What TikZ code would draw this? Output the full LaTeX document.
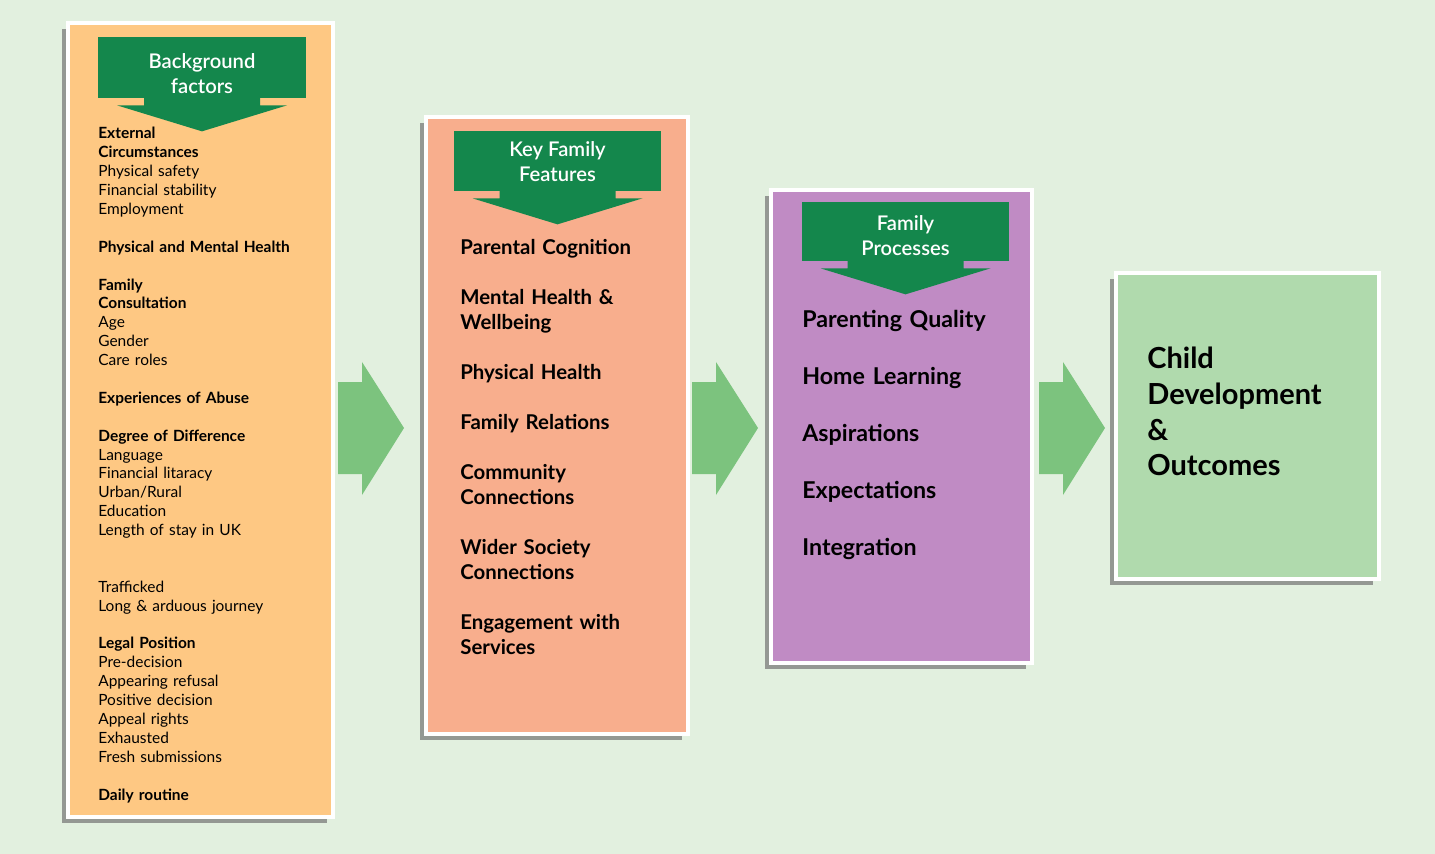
\documentclass[tikz,border=0pt]{standalone}
\usepackage{fontspec}
\setmainfont{Lato}
\newfontfamily\latosemi{Lato Semibold}
\usepackage{xcolor}
\usepackage{tikz}
\usetikzlibrary{positioning,fit,calc,shadows}

\definecolor{paper}{RGB}{226,240,223}
\definecolor{orangefill}{RGB}{254,200,131}
\definecolor{salmonfill}{RGB}{248,174,141}
\definecolor{purplefill}{RGB}{192,139,196}
\definecolor{greenfill}{RGB}{176,218,173}
\definecolor{bannergreen}{RGB}{20,135,76}
\definecolor{arrowgreen}{RGB}{124,195,126}

\tikzset{panel/.style={draw=white,line width=0.09cm,inner sep=0pt,
    drop shadow={shadow xshift=-0.12cm,shadow yshift=-0.12cm,fill=black!55,opacity=0.7}}}
\tikzset{banner/.style={fill=bannergreen,inner sep=0pt}}
\tikzset{bannertext/.style={white,align=center,inner sep=0pt,font=\latosemi\fontsize{11.5}{14.2}\selectfont}}
\tikzset{itemlist/.style={anchor=base west,align=left,inner sep=0pt,text width=#1}}

% tip under a banner, hung from its south anchor
\newcommand{\bannertip}[1]{%
  \fill[bannergreen] ($(#1.south)+(-58,-1)$) -- ($(#1.south)+(-58,7)$) -- ($(#1.south)+(-85,7)$)
    -- ($(#1.south)+(0,33)$) -- ($(#1.south)+(85,7)$) -- ($(#1.south)+(58,7)$) -- ($(#1.south)+(58,-1)$) -- cycle;}
% block arrow starting at a coordinate
\newcommand{\flowarrow}[1]{%
  \fill[arrowgreen] ($(#1)+(0,-46)$) -- ($(#1)+(24,-46)$) -- ($(#1)+(24,-66)$) -- ($(#1)+(66,0)$)
    -- ($(#1)+(24,67)$) -- ($(#1)+(24,46)$) -- ($(#1)+(0,46)$) -- cycle;}

\begin{document}
\begin{tikzpicture}[x=0.02cm,y=-0.02cm]
    \fill[paper] (0,0) rectangle (1435,854);

    \node[panel,fill=orangefill,fit={(68,23) (333,817)}] (bg) {};
    \node[panel,fill=salmonfill,fit={(426,117) (688,734)}] (kf) {};
    \node[panel,fill=purplefill,fit={(771,190) (1032,663)}] (fp) {};
    \node[panel,fill=greenfill,fit={(1116,273) (1379,579)}] (cd) {};

    \node[banner,fit={(98,37) (306,98)}] (h1) {};
    \node[banner,fit={(454,131) (661,191)}] (h2) {};
    \node[banner,fit={(802,202) (1009,261)}] (h3) {};
    \bannertip{h1}
    \bannertip{h2}
    \bannertip{h3}
    \node[bannertext] (t1) at ($(h1.center)+(0,6)$) {Background\\factors};
    \node[bannertext] (t2) at ($(h2.center)+(0,1)$) {Key Family\\Features};
    \node[bannertext] (t3) at ($(h3.center)+(0,4)$) {Family\\Processes};

    \coordinate (a1) at (338,428);
    \coordinate (a2) at (692,428);
    \coordinate (a3) at (1039,428);
    \flowarrow{a1}
    \flowarrow{a2}
    \flowarrow{a3}

    \node[itemlist=4.6cm,font=\fontsize{8.8}{10.75}\selectfont] (l1) at (98,139) {%
      \textbf{External}\\ \textbf{Circumstances}\\ Physical safety\\ Financial stability\\ Employment\\[10.75pt]
      \textbf{Physical and Mental Health}\\[10.75pt]
      \textbf{Family}\\ \textbf{Consultation}\\ Age\\ Gender\\ Care roles\\[10.75pt]
      \textbf{Experiences of Abuse}\\[10.75pt]
      \textbf{Degree of Difference}\\ Language\\ Financial litaracy\\ Urban/Rural\\ Education\\ Length of stay in UK\\[21.5pt]
      Trafficked\\ Long \& arduous journey\\[10.75pt]
      \textbf{Legal Position}\\ Pre-decision\\ Appearing refusal\\ Positive decision\\ Appeal rights\\ Exhausted\\ Fresh submissions\\[10.75pt]
      \textbf{Daily routine}};

    \node[itemlist=4.4cm,font=\bfseries\fontsize{11.6}{14.2}\selectfont] (l2) at (460,255) {%
      Parental Cognition\\[14.2pt]
      Mental Health \&\\ Wellbeing\\[14.2pt]
      Physical Health\\[14.2pt]
      Family Relations\\[14.2pt]
      Community\\ Connections\\[14.2pt]
      Wider Society\\ Connections\\[14.2pt]
      Engagement with\\ Services};

    \node[itemlist=4.4cm,font=\bfseries\fontsize{13.2}{32.4}\selectfont] (l3) at (802,328) {%
      Parenting Quality\\ Home Learning\\ Aspirations\\ Expectations\\ Integration};

    \node[itemlist=4.6cm,font=\bfseries\fontsize{16.5}{20.3}\selectfont] (l4) at (1147,369) {%
      Child\\ Development\\ \&\\ Outcomes};
\end{tikzpicture}
\end{document}
